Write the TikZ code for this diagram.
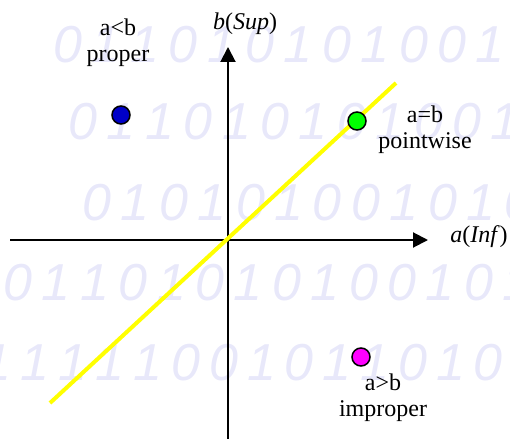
\documentclass[tikz,border=0pt]{standalone}
\usepackage{fontspec}
\setmainfont{Liberation Serif}
\newfontfamily\wmfont{Liberation Sans}
\newfontfamily\lblfont{Liberation Serif}
\usetikzlibrary{arrows.meta}
\definecolor{wm}{RGB}{232,232,250}
\definecolor{ptblue}{RGB}{0,0,200}
\definecolor{ptgreen}{RGB}{0,255,0}
\definecolor{ptmag}{RGB}{255,0,255}
\definecolor{diag}{RGB}{255,255,0}
\begin{document}
\begin{tikzpicture}[x=1pt,y=-1pt,
  wmdigit/.style={anchor=base, inner sep=0pt, text=wm, font=\wmfont\itshape\fontsize{52}{52}\selectfont},
  lbl/.style={inner sep=0pt, align=center, font=\lblfont\fontsize{24}{26}\selectfont},
  axlbl/.style={inner sep=0pt, anchor=base, font=\lblfont\fontsize{24}{26}\selectfont},
  dotnode/.style={circle, draw=black, line width=1.5pt, minimum size=18pt, inner sep=0pt},
  axisline/.style={line width=2pt, -{Triangle[length=15pt,width=15pt]}},
  diagline/.style={draw=diag, line width=4pt}]
\useasboundingbox (0,0) rectangle (510,438);
% watermark rows
\foreach \d [count=\i from 0] in {0,1,1,0,1,0,1,0,1,0,0,1}
  \node[wmdigit] (ra\i) at (68+38.4*\i,63) {\d};
\foreach \d [count=\i from 0] in {0,1,1,0,1,0,1,0,1,0,0,1}
  \node[wmdigit] (rb\i) at (83+38.4*\i,140) {\d};
\foreach \d [count=\i from 0] in {0,1,0,1,0,1,0,0,1,0,1,0}
  \node[wmdigit] (rc\i) at (97+38.4*\i,220) {\d};
\foreach \d [count=\i from 0] in {0,1,1,0,1,0,1,0,1,0,0,1,0,1}
  \node[wmdigit] (rd\i) at (18+38.4*\i,300) {\d};
\foreach \d [count=\i from 0] in {1,1,1,1,1,0,0,1,0,1,1,0,1,0}
  \node[wmdigit] (re\i) at (-3+37.8*\i,380) {\d};
% axes
\coordinate (xs) at (10,240);
\coordinate (xe) at (428,240);
\coordinate (ys) at (228,440);
\coordinate (ye) at (228,47);
\draw[axisline] (xs) -- (xe);
\draw[axisline] (ys) -- (ye);
\node[axlbl] (blab) at (245,30) {\textit{b}(\textit{Sup})};
\node[axlbl] (alab) at (479,242) {\textit{a}(\textit{Inf})};
% diagonal
\coordinate (da) at (50,403);
\coordinate (db) at (396,83);
\draw[diagline] (da) -- (db);
% points
\node[dotnode, fill=ptblue] (pblue) at (121,115) {};
\node[dotnode, fill=ptgreen] (pgreen) at (357,121) {};
\node[dotnode, fill=ptmag] (pmag) at (361,357) {};
% labels
\node[lbl] (lproper) at (118,42.5) {a<b\\proper};
\node[lbl] (lpoint) at (425,130) {a=b\\pointwise};
\node[lbl] (limp) at (383,398) {a>b\\improper};
\end{tikzpicture}
\end{document}
